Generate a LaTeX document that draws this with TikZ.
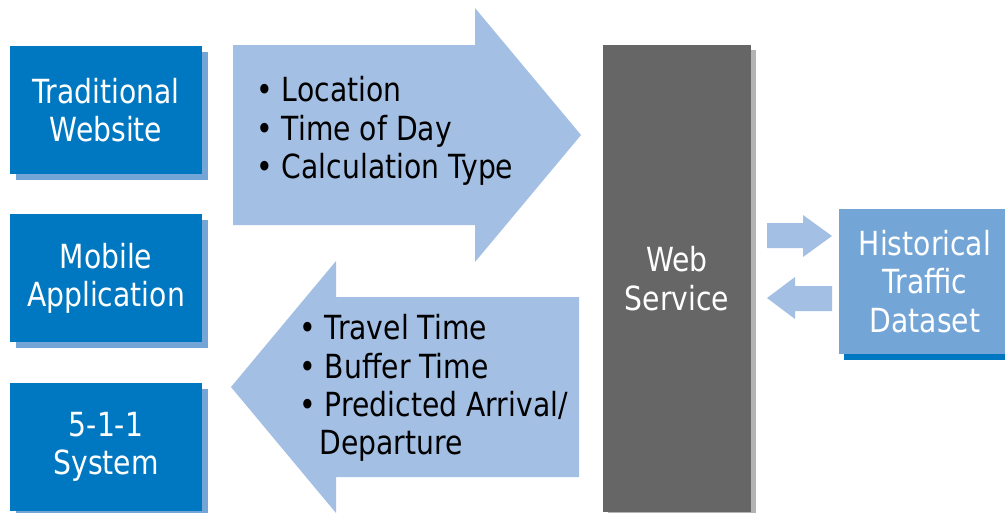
\documentclass[tikz,border=0pt]{standalone}
\usepackage{fontspec}
\setmainfont[FakeStretch=0.85]{DejaVu Sans}
\usetikzlibrary{shadows}

\definecolor{boxblue}{HTML}{0078C1}
\definecolor{shadowblue}{HTML}{73A5D6}
\definecolor{arrowblue}{HTML}{A3BFE3}
\definecolor{servicegray}{HTML}{666666}
\definecolor{shadowgray}{HTML}{B3B3B3}

\tikzset{
  bigfont/.style={font={\fontsize{18.9}{21.8}\selectfont}},
  srcbox/.style={bigfont, fill=boxblue, text=white, align=center, inner sep=0pt,
    minimum width=3.84cm, minimum height=2.56cm,
    general shadow={fill=shadowblue, shadow xshift=0.12cm, shadow yshift=-0.12cm}},
  servicebox/.style={bigfont, fill=servicegray, text=white, align=center, inner sep=0pt,
    minimum width=2.96cm, minimum height=9.34cm,
    general shadow={fill=shadowgray, shadow xshift=0.1cm, shadow yshift=-0.1cm}},
  databox/.style={bigfont, fill=shadowblue, text=white, align=center, inner sep=0pt,
    minimum width=3.44cm, minimum height=2.9cm,
    general shadow={fill=boxblue, shadow xshift=0.1cm, shadow yshift=-0.12cm}},
  listtext/.style={bigfont, text=black, align=left, inner sep=0pt, anchor=west}
}

\begin{document}
\begin{tikzpicture}[x=0.02cm,y=-0.02cm]
  \useasboundingbox (0,0) rectangle (1005,512);

  % request and response arrows
  \fill[arrowblue] (233,45) -- (475,45) -- (475,8) -- (581,135) -- (475,262)
                   -- (475,225) -- (233,225) -- cycle;
  \fill[arrowblue] (579,297) -- (336,297) -- (336,261) -- (231,387) -- (336,513)
                   -- (336,477) -- (579,477) -- cycle;
  % small arrows to and from the dataset
  \fill[arrowblue] (767,223) -- (803,223) -- (803,215) -- (832,236) -- (803,257)
                   -- (803,248) -- (767,248) -- cycle;
  \fill[arrowblue] (832,286) -- (795,286) -- (795,277) -- (767,298) -- (795,319)
                   -- (795,311) -- (832,311) -- cycle;

  % sources
  \node[srcbox] (website) at (106,110) {Traditional\\Website};
  \node[srcbox] (mobile) at (106,278) {Mobile\\Application};
  \node[srcbox] (system) at (106,447) {5-1-1\\System};

  % service and dataset
  \node[servicebox] (service) at (677,278.5) {Web\\Service};
  \node[databox] (dataset) at (925,281.5) {Historical\\Traffic\\Dataset};

  % list texts
  \node[listtext] (inputs) at (256,131)
    {\textbullet\ Location\\\textbullet\ Time of Day\\\textbullet\ Calculation Type};
  \node[listtext] (outputs) at (299,388)
    {\textbullet\ Travel Time\\\textbullet\ Buffer Time\\\textbullet\ Predicted Arrival/\\\hspace{0.4cm}Departure};
\end{tikzpicture}
\end{document}
